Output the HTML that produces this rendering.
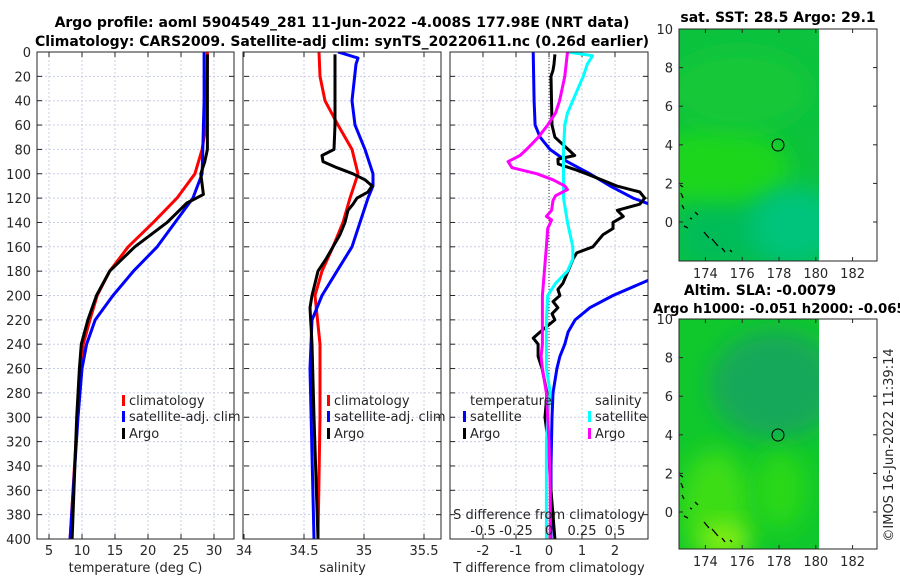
<!DOCTYPE html>
<html><head><meta charset="utf-8"><style>
body{margin:0;background:#fff}
svg{display:block;font-family:"DejaVu Sans","Liberation Sans",sans-serif}
.t{font-size:13px;fill:#262626}
.b{font-weight:bold;font-size:14px;fill:#000}
</style></head><body>
<svg id="fig" width="900" height="580" viewBox="0 0 900 580" xmlns="http://www.w3.org/2000/svg">
<text class="b" x="342" y="27" text-anchor="middle">Argo profile: aoml 5904549_281 11-Jun-2022 -4.008S 177.98E (NRT data)</text>
<text class="b" x="342" y="46" text-anchor="middle">Climatology: CARS2009. Satellite-adj clim: synTS_20220611.nc (0.26d earlier)</text>
<g id="panels"></g>
<g id="maps">
<text class="b" x="778" y="22" text-anchor="middle">sat. SST: 28.5 Argo: 29.1</text>
<defs>
<filter id="bl" x="-50%" y="-50%" width="200%" height="200%"><feGaussianBlur stdDeviation="12"/></filter>
<clipPath id="c1"><rect x="679" y="29" width="140" height="232"/></clipPath>
<clipPath id="c2"><rect x="679" y="319" width="140" height="230"/></clipPath>
</defs>
<g clip-path="url(#c1)">
<rect x="679" y="29" width="140" height="232" fill="#0cc23e"/>
<ellipse cx="720" cy="170" rx="70" ry="45" fill="#1ad61e" filter="url(#bl)"/>
<ellipse cx="740" cy="90" rx="70" ry="40" fill="#12c838" filter="url(#bl)"/>
<rect x="679" y="205" width="140" height="60" fill="#06bc58" filter="url(#bl)"/>
<ellipse cx="795" cy="225" rx="45" ry="38" fill="#00c47c" filter="url(#bl)"/>
</g>
<rect x="679" y="29" width="198" height="232" fill="none" stroke="#262626" stroke-width="1"/>
<circle cx="778" cy="145" r="6" fill="none" stroke="#000"/>
<path d="M680 185 l3 2 M681 193 l2 5 M682 205 l2 4 M684 226 l4 2 M690 218 l2 1 M695 212 l3 3 M704 232 l5 6 M712 239 l6 7 M722 248 l3 4 M730 250 l2 2" stroke="#000" stroke-width="1.3" fill="none"/>
<g id="m1ticks"></g>
<text class="b" x="760" y="295" text-anchor="middle">Altim. SLA: -0.0079</text>
<text class="b" x="653" y="313" style="font-size:13.3px">Argo h1000: -0.051 h2000: -0.065</text>
<g clip-path="url(#c2)">
<rect x="679" y="319" width="140" height="230" fill="#10c82c"/>
<ellipse cx="775" cy="385" rx="65" ry="55" fill="#13a85a" filter="url(#bl)"/>
<ellipse cx="715" cy="505" rx="35" ry="55" fill="#3cdd12" filter="url(#bl)"/>
<ellipse cx="780" cy="490" rx="25" ry="40" fill="#2ad818" filter="url(#bl)"/>
<ellipse cx="725" cy="540" rx="25" ry="15" fill="#8ef012" filter="url(#bl)"/>
</g>
<rect x="679" y="319" width="198" height="230" fill="none" stroke="#262626" stroke-width="1"/>
<circle cx="778" cy="435" r="6" fill="none" stroke="#000"/>
<path d="M680 475 l3 2 M681 483 l2 5 M682 495 l2 4 M684 516 l4 2 M690 508 l2 1 M695 502 l3 3 M704 522 l5 6 M712 529 l6 7 M722 538 l3 4 M730 540 l2 2" stroke="#000" stroke-width="1.3" fill="none"/>
<g id="m2ticks"></g>
<text class="t" transform="translate(893,445) rotate(-90)" text-anchor="middle">©IMOS 16-Jun-2022 11:39:14</text>
</g>
</svg>
<script>
// ---- data (depth in m) ----
const tDepth=[0,20,40,60,80,100,120,140,160,180,200,220,240,260,300,400];
const tClim=[29.0,28.95,28.9,28.8,28.2,27.1,24.4,20.8,17.0,14.2,12.3,11.2,10.2,9.8,9.3,8.2];
const tSatDepth=[0,40,80,100,120,140,160,180,200,220,240,260,300,400];
const tSat=[28.5,28.5,28.3,28.2,26.8,24.1,21.4,17.8,14.7,12.0,10.7,10.0,9.4,8.2];
const tArgoDepth=[2,40,80,90,100,117,124,140,160,180,200,220,240,260,300,400];
const tArgo=[29.0,29.0,29.0,28.6,28.0,28.4,25.9,22.9,18.0,14.2,12.2,10.9,9.9,9.6,9.2,8.5];
const sClimDepth=[0,20,40,60,80,100,120,140,160,180,200,240,300,400];
const sClim=[34.625,34.633,34.675,34.783,34.9,34.95,34.883,34.825,34.742,34.65,34.592,34.633,34.633,34.617];
const sSatDepth=[0,5,10,40,60,80,100,110,120,140,160,180,200,220,260,400];
const sSat=[34.783,34.95,34.933,34.9,34.925,35.008,35.075,35.075,35.033,34.967,34.9,34.775,34.65,34.567,34.55,34.583];
const sArgoDepth=[2,60,80,85,90,95,100,105,110,115,120,125,130,140,150,160,170,180,190,200,210,240,300,400];
const sArgo=[34.758,34.758,34.75,34.65,34.658,34.775,34.908,35.008,35.067,35.033,34.942,34.908,34.867,34.842,34.8,34.742,34.683,34.617,34.592,34.567,34.55,34.567,34.583,34.617];
const dtSatDepth=[0,40,60,70,80,90,100,110,120,125,187,200,210,220,230,240,250,260,280,300,340,400];
const dtSat=[-0.48,-0.45,-0.42,-0.27,0.03,0.55,1.24,1.85,2.55,3.05,3.05,1.94,1.24,0.79,0.58,0.48,0.33,0.24,0.12,0.09,0.06,0.06];
const dtArgoDepth=[2,10,15,20,60,70,80,85,88,92,96,100,110,115,120,125,130,135,140,145,150,160,165,170,180,190,195,200,205,210,215,220,230,235,240,250,260,280,300,320,360,400];
const dtArgo=[0.18,0.15,0.12,0.06,0.09,0.18,0.58,0.78,0.27,0.28,0.73,1.14,2.05,2.75,2.9,2.75,2.07,2.25,1.94,1.94,1.64,1.33,0.84,0.73,0.58,0.42,0.27,0.33,0.12,0.27,0.09,0.18,-0.27,-0.48,-0.33,-0.33,-0.21,-0.06,-0.12,-0.03,0.06,0.18];
const dsSatDepth=[0,3,10,20,30,40,50,60,80,100,120,140,160,170,180,190,200,220,260,280,300,320,360,400];
const dsSat=[0.14,0.33,0.29,0.26,0.22,0.18,0.14,0.12,0.11,0.11,0.11,0.14,0.18,0.18,0.14,0.05,-0.01,-0.02,-0.02,0.01,-0.01,-0.02,-0.02,-0.02];
const dsArgoDepth=[0,20,40,50,60,70,80,85,90,95,100,105,110,113,118,122,130,135,138,145,160,200,220,240,250,260,280,300,320,360,400];
const dsArgo=[0.14,0.12,0.08,0.05,-0.01,-0.08,-0.17,-0.22,-0.31,-0.28,-0.09,0.03,0.12,0.14,0.05,0.03,0.02,-0.02,0.02,-0.01,-0.02,-0.05,-0.05,-0.05,-0.06,-0.05,-0.02,-0.01,0.0,0.01,0.01];
const depthTicks=[0,20,40,60,80,100,120,140,160,180,200,220,240,260,280,300,320,340,360,380,400];
const tTicks=[5,10,15,20,25,30];
const sTicks=[34,34.5,35,35.5];
const sTickLabels=['34','34.5','35','35.5'];
const dtTicks=[-2,-1,0,1,2];
const dsTicks=[-0.5,-0.25,0,0.25,0.5];
const lonTicks=[174,176,178,180,182];
const latTicks=[10,8,6,4,2,0];

const NS='http://www.w3.org/2000/svg';
const yTop=52,yBot=539;
const yD=d=>yTop+(d/400)*(yBot-yTop);
function mk(tag,attrs,parent){const e=document.createElementNS(NS,tag);for(const k in attrs)e.setAttribute(k,attrs[k]);parent.appendChild(e);return e;}
const P=document.getElementById('panels');
function panel(name,x0,x1,vmin,vmax,ticks,labels,xlabel,ylabels){
  const g=mk('g',{},P);
  
  
  const xs=v=>x0+(v-vmin)/(vmax-vmin)*(x1-x0);
  ticks.forEach((v,i)=>{
    const x=xs(v);
    if(x>x0+1&&x<x1-1)mk('line',{x1:x,x2:x,y1:yTop,y2:yBot,stroke:'#c8cde6','stroke-width':1,'stroke-dasharray':'2,2'},g);
    mk('line',{x1:x,x2:x,y1:yBot,y2:yBot-5,stroke:'#262626'},g);
    mk('line',{x1:x,x2:x,y1:yTop,y2:yTop+5,stroke:'#262626'},g);
    const t=mk('text',{x:x,y:555,'text-anchor':'middle',class:'t'},g);t.textContent=labels[i];
  });
  depthTicks.forEach(d=>{
    const y=yD(d);
    if(d>0&&d<400)mk('line',{x1:x0,x2:x1,y1:y,y2:y,stroke:'#c8cde6','stroke-width':1,'stroke-dasharray':'2,2'},g);
    mk('line',{x1:x0,x2:x0+5,y1:y,y2:y,stroke:'#262626'},g);
    mk('line',{x1:x1-5,x2:x1,y1:y,y2:y,stroke:'#262626'},g);
    if(ylabels){const t=mk('text',{x:31,y:y+5,'text-anchor':'end',class:'t'},g);t.textContent=d;}
  });
  const xl=mk('text',{x:(x0+x1)/2,y:572,'text-anchor':'middle',class:'t'},g);xl.textContent=xlabel;
  
  
  return {g,xs};
}
function line(g,xs,vals,depths,color,name,w){
  const pts=vals.map((v,i)=>xs(v).toFixed(1)+','+yD(depths[i]).toFixed(1)).join(' ');
  const p=mk('polyline',{points:pts,fill:'none',stroke:color,'stroke-width':w||3,'stroke-linejoin':'round'},g);
  
  
}
function clip(id,x0,x1){const d=mk('clipPath',{id:id},P);mk('rect',{x:x0,y:yTop,width:x1-x0,height:yBot-yTop},d);}
function legend(g,x,y,color,label,name){
  mk('rect',{x:x,y:y-10,width:3,height:11,fill:color},g);
  const t=mk('text',{x:x+7,y:y,class:'t'},g);t.textContent=label;
  
  
}
// panel 1
let A=panel('temperature-panel',37,234,3.18,33.03,tTicks,tTicks.map(String),'temperature (deg C)',true);
clip('cp1',37,234);
let gA=mk('g',{'clip-path':'url(#cp1)'},A.g);
line(gA,A.xs,tClim,tDepth,'#f00','temperature-climatology-line');
line(gA,A.xs,tSat,tSatDepth,'#00f','temperature-satellite-line');
line(gA,A.xs,tArgo,tArgoDepth,'#000','temperature-argo-line');
mk('rect',{x:37,y:yTop,width:197,height:yBot-yTop,fill:'none',stroke:'#262626'},A.g);
legend(A.g,122,405,'#f00','climatology','legend-climatology');
legend(A.g,122,421,'#00f','satellite-adj. clim','legend-satellite');
legend(A.g,122,438,'#000','Argo','legend-argo');
// panel 2
let B=panel('salinity-panel',244,441,34,35.6417,sTicks,sTickLabels,'salinity',false);
clip('cp2',244,441);
let gB=mk('g',{'clip-path':'url(#cp2)'},B.g);
line(gB,B.xs,sClim,sClimDepth,'#f00','salinity-climatology-line');
line(gB,B.xs,sSat,sSatDepth,'#00f','salinity-satellite-line');
line(gB,B.xs,sArgo,sArgoDepth,'#000','salinity-argo-line');
mk('rect',{x:243,y:yTop,width:198,height:yBot-yTop,fill:'none',stroke:'#262626'},B.g);
legend(B.g,327,405,'#f00','climatology','legend-s-climatology');
legend(B.g,327,421,'#00f','satellite-adj. clim','legend-s-satellite');
legend(B.g,327,438,'#000','Argo','legend-s-argo');
// panel 3
let C=panel('difference-panel',450,648,-3,3,dtTicks,dtTicks.map(String),'T difference from climatology',false);
clip('cp3',450,648);
const xsS=v=>C.xs(v*4);
mk('line',{x1:C.xs(0),x2:C.xs(0),y1:yTop,y2:yBot,stroke:'#333','stroke-dasharray':'1,2'},C.g);
let gC=mk('g',{'clip-path':'url(#cp3)'},C.g);
line(gC,C.xs,dtSat,dtSatDepth,'#00f','t-diff-satellite-line');
line(gC,C.xs,dtArgo,dtArgoDepth,'#000','t-diff-argo-line');
line(gC,xsS,dsSat,dsSatDepth,'#00ffff','s-diff-satellite-line');
line(gC,xsS,dsArgo,dsArgoDepth,'#ff00ff','s-diff-argo-line');
mk('rect',{x:450,y:yTop,width:198,height:yBot-yTop,fill:'none',stroke:'#262626'},C.g);
let tt=mk('text',{x:470,y:405,class:'t'},C.g);tt.textContent='temperature';
let st=mk('text',{x:595,y:405,class:'t'},C.g);st.textContent='salinity';
legend(C.g,463,421,'#00f','satellite','legend-t-satellite');
legend(C.g,463,438,'#000','Argo','legend-t-argo');
legend(C.g,588,421,'#00ffff','satellite','legend-s-diff-satellite');
legend(C.g,588,438,'#ff00ff','Argo','legend-s-diff-argo');
let sl=mk('text',{x:549,y:519,'text-anchor':'middle',class:'t'},C.g);sl.textContent='S difference from climatology';


dsTicks.forEach(v=>{const t=mk('text',{x:xsS(v),y:535,'text-anchor':'middle',class:'t'},C.g);t.textContent=String(v);});
// map ticks
function mapTicks(id,y0,y1,zeroY){
  const g=document.getElementById(id);
  lonTicks.forEach(l=>{const x=779+(l-178)*18.4;
    mk('line',{x1:x,x2:x,y1:y1,y2:y1-4,stroke:'#262626'},g);
    mk('line',{x1:x,x2:x,y1:y0,y2:y0+4,stroke:'#262626'},g);
    const t=mk('text',{x:x,y:y1+17,'text-anchor':'middle',class:'t'},g);t.textContent=l;});
  latTicks.forEach(l=>{const y=zeroY-l*(zeroY-y0)/10;
    mk('line',{x1:679,x2:683,y1:y,y2:y,stroke:'#262626'},g);
    mk('line',{x1:873,x2:877,y1:y,y2:y,stroke:'#262626'},g);
    const t=mk('text',{x:673,y:y+5,'text-anchor':'end',class:'t'},g);t.textContent=l;});
}
mapTicks('m1ticks',29,261,222);
mapTicks('m2ticks',319,549,512);
</script>
</body></html>
